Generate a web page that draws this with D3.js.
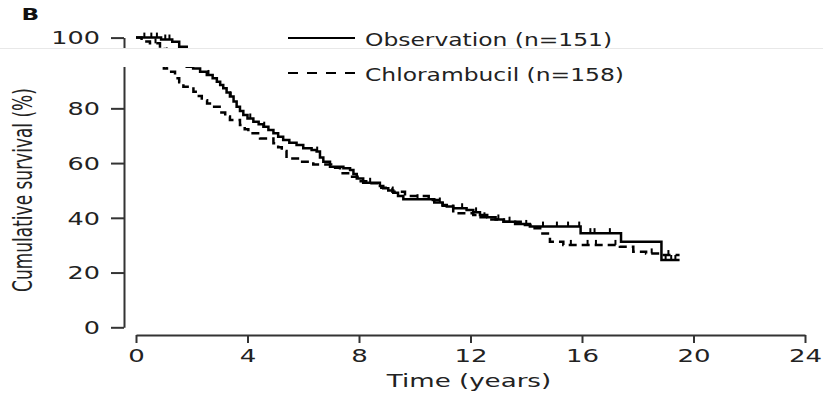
<!DOCTYPE html>
<html>
<head>
<meta charset="utf-8">
<script src="https://cdn.jsdelivr.net/npm/d3@7"></script>
<style>
body { margin: 0; background: #fff; }
</style>
</head>
<body>
<script>
// survival steps (time in years, survival in %)
var obsTime = [0, 0.9, 1.3, 1.55, 1.82, 2.05, 2.3, 2.54, 2.75, 2.9, 3.02, 3.13, 3.25, 3.37, 3.5, 3.61, 3.73, 3.85, 4.0, 4.21, 4.4, 4.57, 4.75, 4.93, 5.1, 5.28, 5.5, 5.76, 6.0, 6.3, 6.48, 6.6, 6.72, 6.96, 7.44, 7.68, 7.8, 7.92, 8.15, 8.75, 8.87, 9.05, 9.23, 9.4, 9.59, 10.7, 11.0, 11.15, 11.38, 11.86, 12.1, 12.34, 12.6, 12.9, 13.18, 13.6, 14.13, 15.95, 17.4, 18.85];
var obsSurv = [100, 99.3, 98.5, 96.7, 95.2, 94.6, 93.4, 92.2, 91.0, 89.7, 88.5, 87.3, 85.8, 84.3, 82.5, 80.6, 79.0, 77.6, 76.3, 75.1, 74.2, 73.3, 72.1, 70.9, 69.6, 68.4, 67.4, 66.6, 65.4, 64.8, 64.2, 62.0, 60.5, 58.7, 58.1, 57.5, 56.0, 54.4, 52.8, 51.6, 50.8, 50.0, 49.2, 48.0, 46.8, 45.6, 44.7, 44.1, 43.5, 42.9, 42.0, 41.0, 40.2, 39.4, 38.6, 37.7, 36.8, 34.4, 31.3, 24.6];
var obsCensor = [0.3, 0.55, 0.75, 1.05, 1.2, 2.6, 3.4, 4.1, 4.6, 6.5, 8.4, 10.1, 10.9, 11.7, 12.2, 13.0, 13.4, 14.6, 15.1, 15.5, 15.9, 16.3, 16.45, 17.0, 19.0, 19.2, 19.35];

var chlTime = [0, 0.2, 0.5, 0.86, 1.0, 1.16, 1.4, 1.55, 1.7, 2.06, 2.2, 2.36, 2.55, 2.72, 3.0, 3.2, 3.37, 3.73, 3.9, 4.03, 4.45, 4.93, 5.1, 5.23, 5.4, 5.88, 6.36, 7.0, 7.32, 7.7, 8.0, 8.4, 8.8, 9.2, 9.65, 10.5, 11.0, 11.38, 12.1, 12.3, 12.7, 13.2, 13.8, 14.3, 14.5, 14.85, 15.33, 17.36, 17.84, 18.3, 18.8];
var chlSurv = [100, 98.6, 97.9, 95.8, 94.6, 93.4, 91.0, 89.5, 87.9, 86.1, 84.5, 83.0, 81.8, 80.6, 78.5, 77.0, 75.7, 73.9, 72.4, 70.9, 69.0, 67.2, 65.8, 64.4, 61.7, 60.5, 59.5, 58.3, 56.3, 55.0, 53.4, 52.6, 51.0, 49.5, 48.0, 46.5, 44.4, 41.7, 41.0, 40.2, 39.4, 38.6, 37.4, 36.2, 34.3, 31.3, 30.1, 29.4, 27.6, 27.0, 26.4];
var chlCensor = [0.7, 1.1, 12.5, 14.0, 15.6, 16.2, 16.5, 17.2, 18.5, 19.1];

var endTime = 19.5;
var xTicks = [0, 4, 8, 12, 16, 20, 24];
var yTicks = [0, 20, 40, 60, 80, 100];
var legendLabels = ["Observation (n=151)", "Chlorambucil (n=158)"];

var font = "DejaVu Sans";

var svg = d3.select("body")
	.append("svg")
	.attr("width", 823)
	.attr("height", 394);

var x = d3.scaleLinear().domain([0, 24]).range([136, 805]);
var y = d3.scaleLinear().domain([0, 100]).range([327.3, 53.6]);

function steps(times, surv) {
	var pts = times.map(function(t, i) { return [t, surv[i]]; });
	pts.push([endTime, surv[surv.length - 1]]);
	return pts;
}

function survAt(times, surv, t) {
	var s = surv[0];
	for (var i = 0; i < times.length; i++) {
		if (times[i] <= t) s = surv[i];
	}
	return s;
}

var line = d3.line()
	.x(function(d) { return x(d[0]); })
	.y(function(d) { return y(d[1]); })
	.curve(d3.curveStepAfter);

// the picture is cut: the top strip is moved up, a white band follows
var defs = svg.append("defs");
defs.append("clipPath").attr("id", "clipTop")
	.append("rect").attr("x", 0).attr("y", 0).attr("width", 823).attr("height", 64);
defs.append("clipPath").attr("id", "clipBottom")
	.append("rect").attr("x", 0).attr("y", 67).attr("width", 823).attr("height", 330);

function drawChart(g, top) {
	var xa = g.append("g")
		.attr("transform", "translate(0,335)")
		.call(d3.axisBottom(x).tickValues(xTicks).tickSize(8).tickSizeOuter(0));
	var ya = g.append("g")
		.attr("transform", "translate(124,0)")
		.call(d3.axisLeft(y).tickValues(yTicks).tickSize(13).tickSizeOuter(0));

	[xa, ya].forEach(function(a) {
		a.attr("font-family", font).attr("font-size", 17);
		a.selectAll("path, line").attr("stroke", "#333").attr("stroke-width", 2);
		a.selectAll("text").attr("fill", "#222").attr("x", null).attr("y", null).attr("dy", null);
	});
	xa.selectAll("text").attr("transform", "translate(0,26.7) scale(1.53,1)");
	ya.selectAll("text").attr("transform", "translate(-24,6.2) scale(1.5,1)");

	// keep each label only in the strip where it shows
	if (top) {
		xa.selectAll("text").remove();
		ya.selectAll(".tick").filter(function(d) { return d != 100; }).select("text").remove();
	} else {
		ya.selectAll(".tick").filter(function(d) { return d == 100; }).select("text").remove();
	}

	g.append("path")
		.datum(steps(obsTime, obsSurv))
		.attr("fill", "none")
		.attr("stroke", "#000")
		.attr("stroke-width", 2.5)
		.attr("d", line);

	g.append("path")
		.datum(steps(chlTime, chlSurv))
		.attr("fill", "none")
		.attr("stroke", "#000")
		.attr("stroke-width", 2.5)
		.attr("stroke-dasharray", "8,5")
		.attr("d", line);

	g.selectAll(".cobs")
		.data(obsCensor)
		.enter().append("line")
		.attr("x1", function(d) { return x(d); })
		.attr("x2", function(d) { return x(d); })
		.attr("y1", function(d) { return y(survAt(obsTime, obsSurv, d)); })
		.attr("y2", function(d) { return y(survAt(obsTime, obsSurv, d)) - 5; })
		.attr("stroke", "#000")
		.attr("stroke-width", 2);

	g.selectAll(".cchl")
		.data(chlCensor)
		.enter().append("line")
		.attr("x1", function(d) { return x(d); })
		.attr("x2", function(d) { return x(d); })
		.attr("y1", function(d) { return y(survAt(chlTime, chlSurv, d)); })
		.attr("y2", function(d) { return y(survAt(chlTime, chlSurv, d)) - 5; })
		.attr("stroke", "#000")
		.attr("stroke-width", 2);
}

drawChart(svg.append("g").attr("transform", "translate(0,-16)").attr("clip-path", "url(#clipTop)"), true);
drawChart(svg.append("g").attr("clip-path", "url(#clipBottom)"), false);

svg.append("line")
	.attr("x1", 0).attr("x2", 823)
	.attr("y1", 48.5).attr("y2", 48.5)
	.attr("stroke", "#e8e8e8")
	.attr("stroke-width", 1);

// panel letter
svg.append("text")
	.attr("transform", "translate(21.5,20) scale(1.45,1)")
	.attr("font-family", font)
	.attr("font-weight", "bold")
	.attr("font-size", 16)
	.attr("fill", "#111")
	.text("B");

// legend
var legendY = [38, 73];
legendLabels.forEach(function(lab, i) {
	svg.append("line")
		.attr("x1", 288).attr("x2", 355)
		.attr("y1", legendY[i]).attr("y2", legendY[i])
		.attr("stroke", "#000")
		.attr("stroke-width", 2)
		.attr("stroke-dasharray", i == 1 ? "10,9" : null);
	svg.append("text")
		.attr("transform", "translate(365," + (legendY[i] + 8) + ") scale(1.3,1)")
		.attr("font-family", font)
		.attr("font-size", 18)
		.attr("fill", "#222")
		.text(lab);
});

// axis titles
svg.append("text")
	.attr("transform", "translate(469,387) scale(1.45,1)")
	.attr("text-anchor", "middle")
	.attr("font-family", font)
	.attr("font-size", 18)
	.attr("fill", "#222")
	.text("Time (years)");

svg.append("text")
	.attr("transform", "translate(32,190) scale(1.6,1) rotate(-90)")
	.attr("text-anchor", "middle")
	.attr("font-family", font)
	.attr("font-size", 17)
	.attr("fill", "#222")
	.text("Cumulative survival (%)");
</script>
</body>
</html>
